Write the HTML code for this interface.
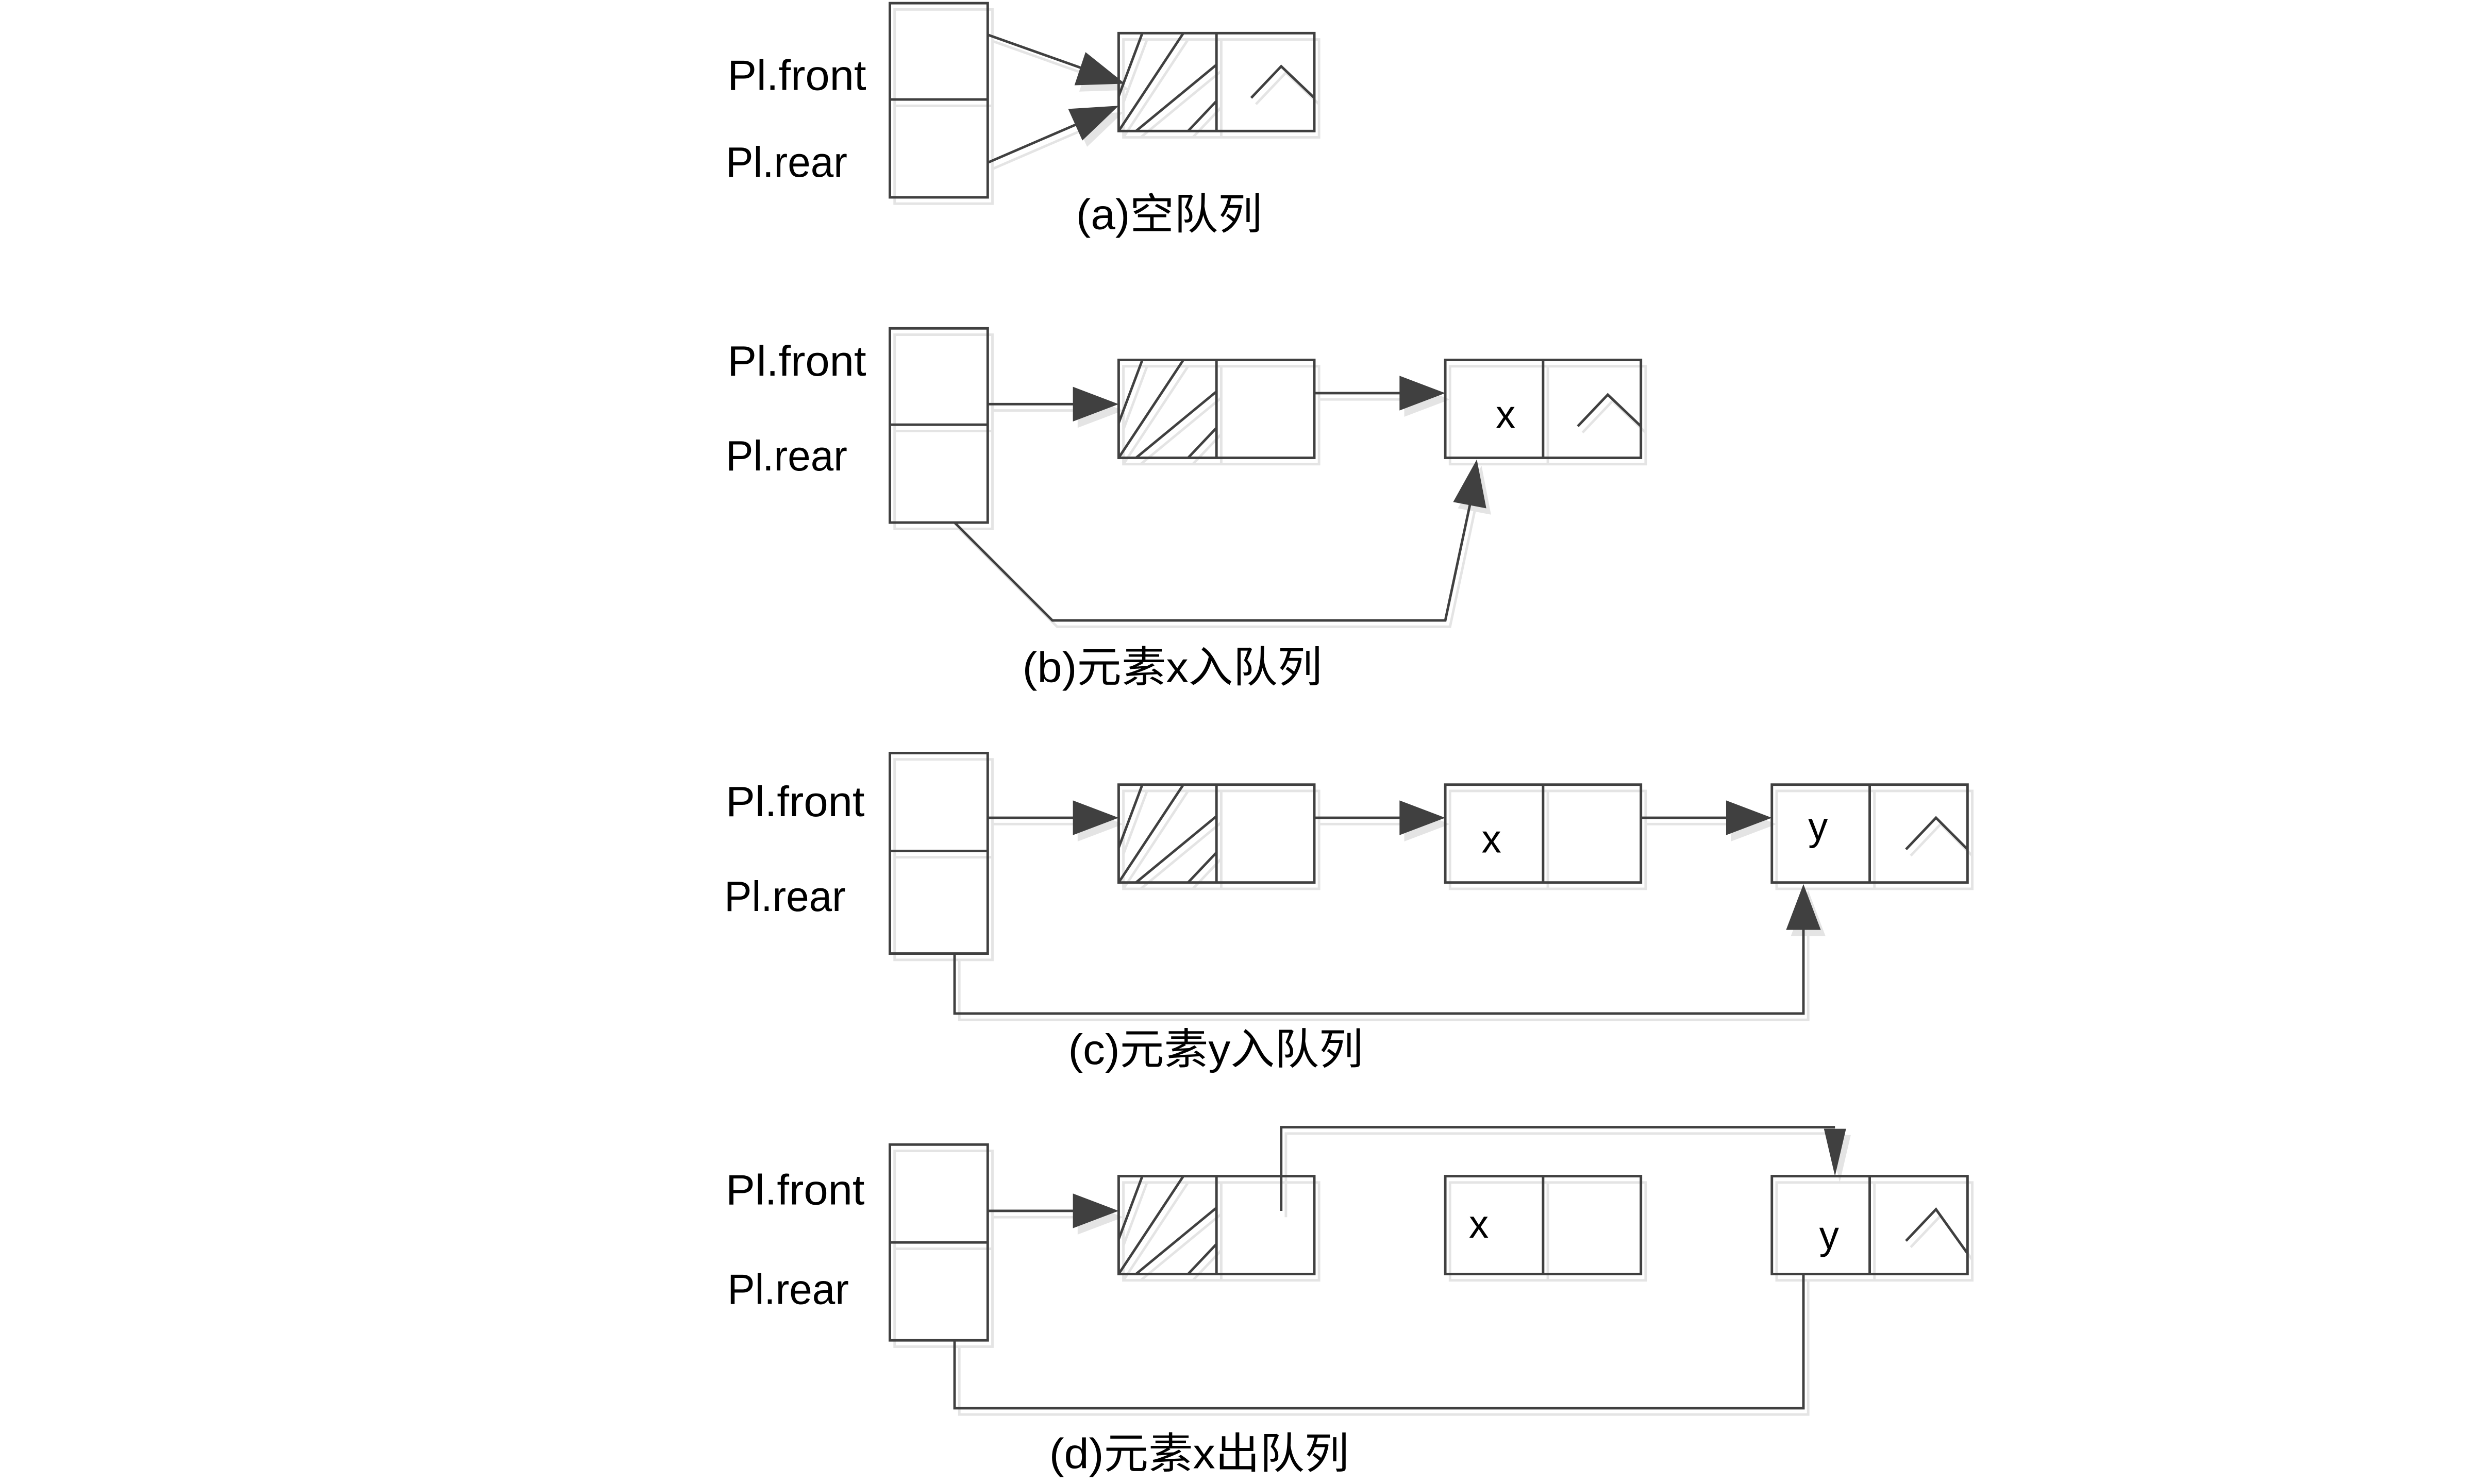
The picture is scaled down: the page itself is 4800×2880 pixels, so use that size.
<!DOCTYPE html>
<html><head><meta charset="utf-8"><style>html,body{margin:0;padding:0;background:#fff}svg{display:block}</style></head>
<body>
<svg width="4800" height="2880" viewBox="0 0 1568 940" preserveAspectRatio="none" xmlns="http://www.w3.org/2000/svg">
<defs>
<g id="hatch">
 <line x1="709" y1="61" x2="724" y2="21"/>
 <line x1="709" y1="83" x2="750" y2="21"/>
 <line x1="720" y1="83" x2="771" y2="41"/>
 <line x1="753" y1="83" x2="771" y2="64"/>
</g>
<g id="all" fill="none" stroke-width="1.6">
 <!-- (a) -->
 <rect x="564" y="2" width="62" height="123"/><line x1="564" y1="63" x2="626" y2="63"/>
 <rect x="709" y="21" width="124" height="62"/><line x1="771" y1="21" x2="771" y2="83"/>
 <use href="#hatch"/>
 <polyline points="793,62 812,42 833,62"/>
 <line x1="626" y1="22" x2="688" y2="44"/>
 <line x1="626" y1="103" x2="684" y2="78"/>
 <!-- (b) -->
 <rect x="564" y="208" width="62" height="123"/><line x1="564" y1="269" x2="626" y2="269"/>
 <rect x="709" y="228" width="124" height="62"/><line x1="771" y1="228" x2="771" y2="290"/>
 <use href="#hatch" transform="translate(0,207)"/>
 <rect x="916" y="228" width="124" height="62"/><line x1="978" y1="228" x2="978" y2="290"/>
 <polyline points="1000,270 1019,250 1040,270"/>
 <line x1="626" y1="256" x2="684" y2="256"/>
 <line x1="833" y1="249" x2="890" y2="249"/>
 <polyline points="605,331 667,393 916,393 932,318"/>
 <!-- (c) -->
 <rect x="564" y="477" width="62" height="127"/><line x1="564" y1="539" x2="626" y2="539"/>
 <rect x="709" y="497" width="124" height="62"/><line x1="771" y1="497" x2="771" y2="559"/>
 <use href="#hatch" transform="translate(0,476)"/>
 <rect x="916" y="497" width="124" height="62"/><line x1="978" y1="497" x2="978" y2="559"/>
 <rect x="1123" y="497" width="124" height="62"/><line x1="1185" y1="497" x2="1185" y2="559"/>
 <polyline points="1208,538 1227,518 1247,538"/>
 <line x1="626" y1="518" x2="684" y2="518"/>
 <line x1="833" y1="518" x2="890" y2="518"/>
 <line x1="1040" y1="518" x2="1097" y2="518"/>
 <polyline points="605,604 605,642 1143,642 1143,588"/>
 <!-- (d) -->
 <rect x="564" y="725" width="62" height="124"/><line x1="564" y1="787" x2="626" y2="787"/>
 <rect x="709" y="745" width="124" height="62"/><line x1="771" y1="745" x2="771" y2="807"/>
 <use href="#hatch" transform="translate(0,724)"/>
 <rect x="916" y="745" width="124" height="62"/><line x1="978" y1="745" x2="978" y2="807"/>
 <rect x="1123" y="745" width="124" height="62"/><line x1="1185" y1="745" x2="1185" y2="807"/>
 <polyline points="1208,786 1227,766 1247,794"/>
 <line x1="626" y1="767" x2="684" y2="767"/>
 <polyline points="812,767 812,714 1163,714"/>
 <polyline points="605,849 605,892 1143,892 1143,807"/>
</g>
<g id="heads" stroke="none">
 <polygon points="713,53 681,54 688,33"/>
 <polygon points="709,67 686,89 677,69"/>
 <polygon points="709,256 680,245 680,267"/>
 <polygon points="916,249 887,238 887,260"/>
 <polygon points="936,291 942,322 921,318"/>
 <polygon points="709,518 680,507 680,529"/>
 <polygon points="916,518 887,507 887,529"/>
 <polygon points="1123,518 1094,507 1094,529"/>
 <polygon points="1143,560 1132,589 1154,589"/>
 <polygon points="709,767 680,756 680,778"/>
 <polygon points="1163,745 1156,715 1170,715"/>
</g>
</defs>
<use href="#all" transform="translate(3,4)" stroke="#e4e4e4"/>
<use href="#heads" transform="translate(3,4)" fill="#e4e4e4"/>
<use href="#all" stroke="#404040"/>
<use href="#heads" fill="#404040"/>
<g font-family="Liberation Sans, Noto Sans CJK SC, sans-serif" font-size="27" fill="#000">
 <text x="461" y="57" textLength="88" lengthAdjust="spacingAndGlyphs">Pl.front</text>
 <text x="460" y="112" textLength="77" lengthAdjust="spacingAndGlyphs">Pl.rear</text>
 <text x="682" y="145" textLength="118" lengthAdjust="spacingAndGlyphs">(a)空队列</text>
 <text x="461" y="238" textLength="88" lengthAdjust="spacingAndGlyphs">Pl.front</text>
 <text x="460" y="298" textLength="77" lengthAdjust="spacingAndGlyphs">Pl.rear</text>
 <text x="948" y="271" font-size="25">x</text>
 <text x="648" y="432" textLength="190" lengthAdjust="spacingAndGlyphs">(b)元素x入队列</text>
 <text x="460" y="517" textLength="88" lengthAdjust="spacingAndGlyphs">Pl.front</text>
 <text x="459" y="577" textLength="77" lengthAdjust="spacingAndGlyphs">Pl.rear</text>
 <text x="939" y="540" font-size="25">x</text>
 <text x="1146" y="532" font-size="25">y</text>
 <text x="677" y="674" textLength="187" lengthAdjust="spacingAndGlyphs">(c)元素y入队列</text>
 <text x="460" y="763" textLength="88" lengthAdjust="spacingAndGlyphs">Pl.front</text>
 <text x="461" y="826" textLength="77" lengthAdjust="spacingAndGlyphs">Pl.rear</text>
 <text x="931" y="784" font-size="25">x</text>
 <text x="1153" y="791" font-size="25">y</text>
 <text x="665" y="930" textLength="190" lengthAdjust="spacingAndGlyphs">(d)元素x出队列</text>
</g>
</svg>
</body></html>
